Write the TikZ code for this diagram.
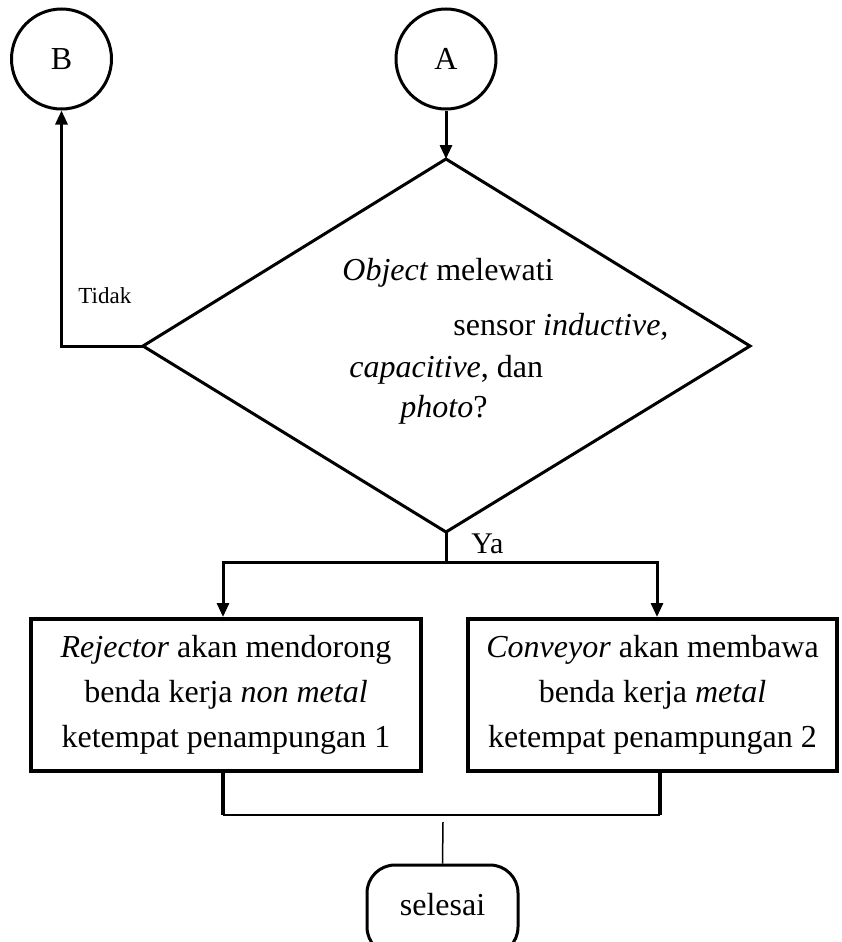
\documentclass[tikz,border=0pt]{standalone}
\usepackage{fontspec}
\setmainfont{Liberation Serif}
\usetikzlibrary{arrows.meta}
\begin{document}
\begin{tikzpicture}[x=0.5pt,y=-0.5pt,
  conn/.style={line width=1.5pt},
  arr/.style={conn,-{Triangle[length=7pt,width=6pt]}},
  circ/.style={circle,draw,line width=1.5pt,minimum size=50pt,inner sep=0pt,font=\fontsize{16}{19}\selectfont},
  procbox/.style={draw,line width=2pt,minimum width=195pt,minimum height=76pt,align=center,inner sep=0pt,font=\fontsize{16}{22.5}\selectfont},
  term/.style={draw,line width=1.5pt,rounded corners=14pt,minimum width=75.5pt,minimum height=45pt,inner sep=0pt,text depth=5.9pt,font=\fontsize{16}{19}\selectfont},
  dtext/.style={anchor=base west,inner sep=0pt,font=\fontsize{16}{19}\selectfont}]
\useasboundingbox (0,0) rectangle (841,942);
% connectors' circles
\node[circ] (B) at (61.5,59) {B};
\node[circ] (A) at (446,59) {A};
% decision
\coordinate (dt) at (446,159);
\coordinate (dl) at (143,346);
\coordinate (dr) at (750,346);
\coordinate (db) at (446,532);
\draw[line width=1.5pt,line join=miter] (dt) -- (dr) -- (db) -- (dl) -- cycle;
\node[dtext] (t1) at (342,280) {\textit{Object} melewati};
\node[dtext] (t2) at (453,335) {sensor \textit{inductive,}};
\node[dtext] (t3) at (349,377) {\textit{capacitive}, dan};
\node[dtext] (t4) at (400,417) {\textit{photo}?};
\node[anchor=base west,inner sep=0pt,font=\fontsize{11.5}{14}\selectfont] (tidak) at (78,303) {Tidak};
\node[anchor=base west,inner sep=0pt,font=\fontsize{15}{18}\selectfont] (ya) at (471,553) {Ya};
% process boxes
\node[procbox] (L) at (226,695) {\textit{Rejector} akan mendorong\\benda kerja \textit{non metal}\\ketempat penampungan 1};
\node[procbox,minimum width=184.5pt] (R) at (652.5,695) {\textit{Conveyor} akan membawa\\benda kerja \textit{metal}\\ketempat penampungan 2};
% terminator
\node[term] (S) at (442.5,910) {selesai};
% arrows
\draw[arr] (A.south) -- (dt);
\draw[arr] (dl) -| (B.south);
\coordinate (split) at (446,562);
\draw[conn] (db) -- (split);
\draw[arr] (split) -| ([xshift=-1.5pt]L.north);
\draw[arr] (split) -| ([xshift=2.25pt]R.north);
\coordinate (jl) at (223,815);
\coordinate (jr) at (660,815);
\draw[line width=1.75pt] ([xshift=-1.5pt]L.south) -- (jl);
\draw[line width=1.75pt] ([xshift=3.75pt]R.south) -- (jr);
\draw[line width=1pt] (jl) -- (jr);
\coordinate (tj) at (443,822);
\draw[line width=0.75pt] (tj) -- (S.north);
\end{tikzpicture}
\end{document}
